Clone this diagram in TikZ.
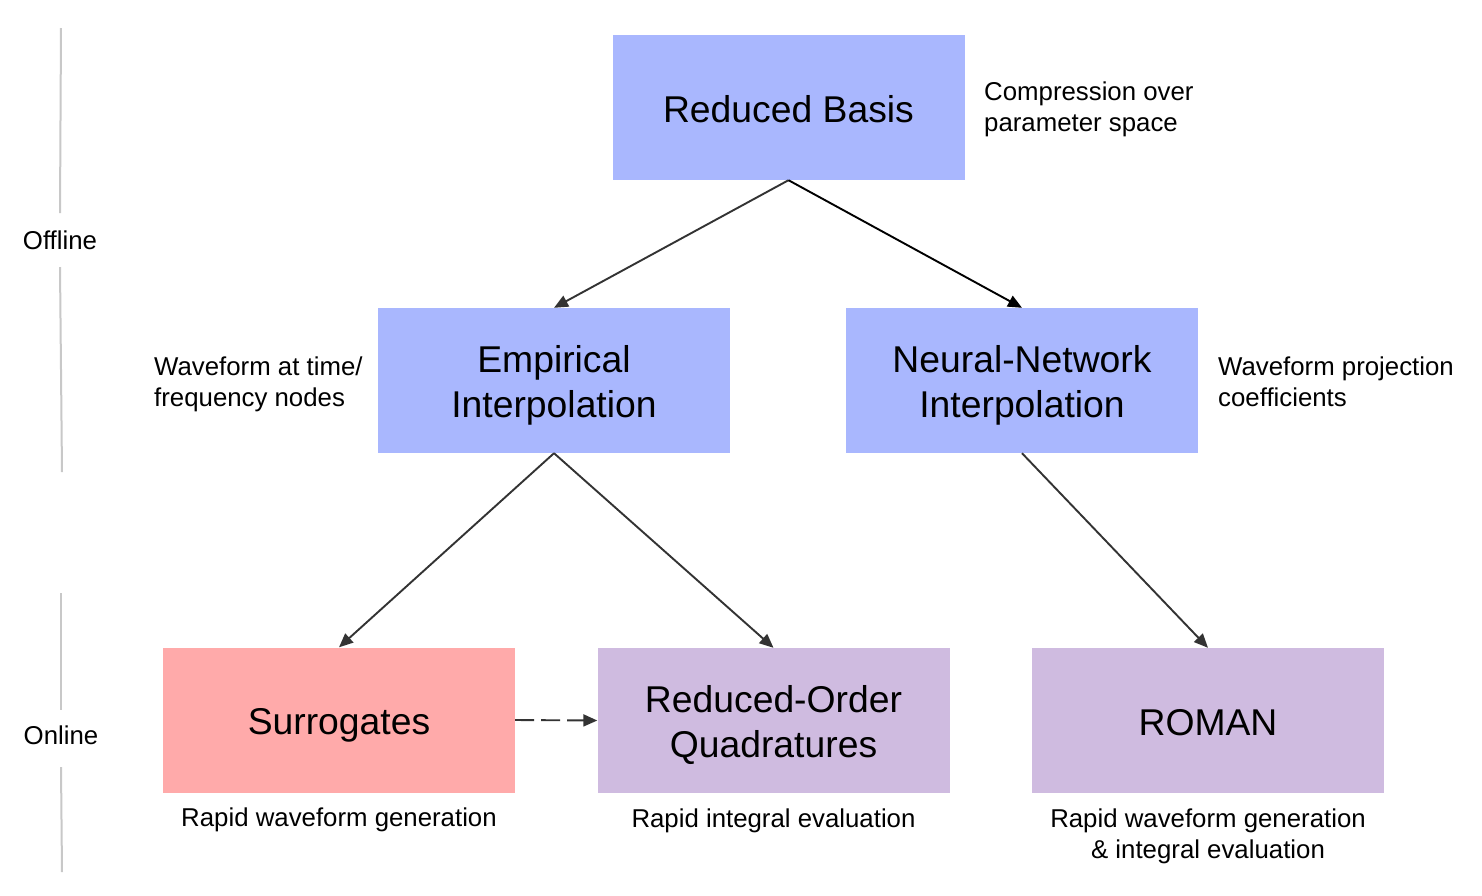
\documentclass[tikz,border=0pt]{standalone}
\usepackage{fontspec}
\setmainfont{Liberation Sans}
\usetikzlibrary{arrows.meta}
\definecolor{bluebox}{HTML}{A9B7FE}
\definecolor{redbox}{HTML}{FFAAAA}
\definecolor{purplebox}{HTML}{CFBBE0}
\definecolor{arrowgray}{HTML}{333333}
\definecolor{sidegray}{HTML}{C8C8C8}
\newcommand{\topstrut}{\rule{0pt}{37pt}}
\tikzset{
  box/.style={minimum width=352pt, minimum height=145pt, inner sep=0pt, align=center,
    font=\fontsize{37.3}{45}\selectfont},
  onebox/.style={box, text height=30pt, text depth=0.8pt},
  side/.style={inner sep=0pt, font=\fontsize{25.8}{31}\selectfont},
  conn/.style={draw=arrowgray, line width=1.9pt, -{Triangle[length=14pt,width=12pt]}},
  phase/.style={draw=sidegray, line width=2pt},
}
\begin{document}
\begin{tikzpicture}[x=1pt,y=-1pt]
\useasboundingbox[fill=white] (0,0) rectangle (1482,895);
% boxes
\node[onebox, fill=bluebox] (rb) at (788.5,107.5) {Reduced Basis};
\node[box, fill=bluebox] (ei) at (554,380.5) {\topstrut Empirical\\Interpolation};
\node[box, fill=bluebox] (nn) at (1022,380.5) {\topstrut Neural-Network\\Interpolation};
\node[onebox, fill=redbox] (sur) at (339,720) {Surrogates};
\node[box, fill=purplebox] (roq) at (773.5,720.5) {\topstrut Reduced-Order\\Quadratures};
\node[onebox, fill=purplebox] (rom) at (1208,720.5) {ROMAN};
% side texts
\node[side, anchor=west, align=left] (trb) at (984,109) {Compression over\\parameter space};
\node[side, anchor=west, align=left] (tei) at (154,384) {Waveform at time/\\frequency nodes};
\node[side, anchor=west, align=left] (tnn) at (1218,382) {Waveform projection\\coefficients};
\node[side, anchor=north, align=center] (tsur) at (339,808) {Rapid waveform generation};
\node[side, anchor=north, align=center] (troq) at (773.5,809) {Rapid integral evaluation};
\node[side, anchor=north, align=center] (trom) at (1208,809) {Rapid waveform generation\\\& integral evaluation};
% phase labels
\node[side] (off) at (60,240) {Offline};
\node[side] (on) at (61,735) {Online};
\coordinate (o1) at (61,28);
\coordinate (o2) at (62,472);
\coordinate (n1) at (61,593);
\coordinate (n2) at (62,872);
\draw[phase] (o1) -- (off.north |- 0,213);
\draw[phase] (off.south |- 0,267) -- (o2);
\draw[phase] (n1) -- (on.north |- 0,710);
\draw[phase] (on.south |- 0,767) -- (n2);
% connectors
\draw[conn] (rb.south) -- (ei.north);
\draw[conn, draw=black] (rb.south) -- (nn.north);
\draw[conn] (ei.south) -- (sur.north);
\draw[conn] (ei.south) -- (roq.north);
\draw[conn] (nn.south) -- (rom.north);
\draw[conn, dash pattern=on 19pt off 7pt] (sur.east) -- (roq.west);
\end{tikzpicture}
\end{document}
